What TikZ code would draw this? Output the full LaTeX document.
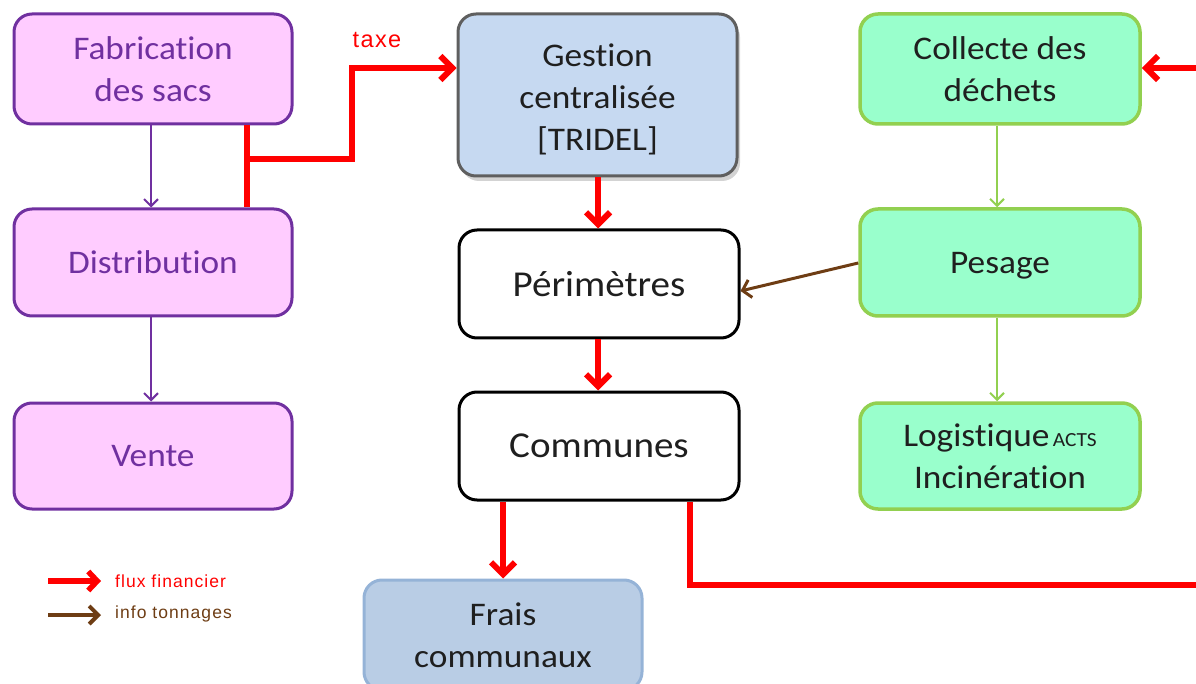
\documentclass[tikz,border=0pt]{standalone}
\usepackage{fontspec}
\setmainfont[FakeStretch=1.07, Ligatures=NoCommon]{Carlito}
\newfontfamily\arialf[LetterSpace=6]{Liberation Sans}
\usetikzlibrary{arrows.meta,shadows,calc}
\definecolor{purp}{HTML}{7030A0}
\definecolor{pinkfill}{HTML}{FFCCFF}
\definecolor{gestfill}{HTML}{C6D9F1}
\definecolor{gestline}{HTML}{5F5F5F}
\definecolor{fraisfill}{HTML}{B9CDE5}
\definecolor{fraisline}{HTML}{95B3D7}
\definecolor{greenfill}{HTML}{99FFCC}
\definecolor{greenline}{HTML}{92D050}
\definecolor{redc}{HTML}{FF0000}
\definecolor{brownc}{HTML}{6E3D14}
\begin{document}
\begin{tikzpicture}[x=1pt,y=-1pt,
  box/.style={rounded corners=18pt, line width=3pt, minimum width=278pt, align=center,
    font=\fontsize{33}{42}\selectfont, inner sep=0pt},
  pinkbox/.style={box, draw=purp, fill=pinkfill, text=purp},
  greenbox/.style={box, draw=greenline, fill=greenfill, text=black!88, line width=3.5pt},
  whitebox/.style={box, draw=black, fill=white, text=black!88, font=\fontsize{36.5}{44}\selectfont},
  gestbox/.style={box, draw=gestline, fill=gestfill, text=black!88,
    drop shadow={shadow xshift=3pt, shadow yshift=-5pt, opacity=0.35}},
  fraisbox/.style={box, draw=fraisline, fill=fraisfill, text=black!88},
  redarrow/.style={draw=redc, line width=6pt, -{Straight Barb[length=12pt,width=24pt]}},
  redline/.style={draw=redc, line width=6pt},
  purparrow/.style={draw=purp, line width=2pt, -{Straight Barb[length=7pt,width=14pt]}},
  greenarrow/.style={draw=greenline, line width=2pt, -{Straight Barb[length=7pt,width=14pt]}},
  brownarrow/.style={draw=brownc, line width=3pt, -{Straight Barb[length=8pt,width=18pt]}},
  legtext/.style={anchor=west, inner sep=0pt, font=\arialf\fontsize{17.5}{20}\selectfont}
]
\useasboundingbox (0,0) rectangle (1196,684);

% left column
\node[pinkbox, minimum height=110pt] (fab) at (153,69) {Fabrication\\des sacs};
\node[pinkbox, minimum height=107pt] (dist) at (153,262.5) {Distribution};
\node[pinkbox, minimum height=106pt] (vente) at (153,456) {Vente};

% middle column
\node[gestbox, minimum width=279pt, minimum height=162pt] (gest) at (597.5,95) {\rule{0pt}{31pt}Gestion\\centralisée\\{}[TRIDEL]};
\node[whitebox, minimum width=280pt, minimum height=108pt] (peri) at (599,284) {Périmètres};
\node[whitebox, minimum width=280pt, minimum height=108pt] (comm) at (599,446) {Communes};
\node[fraisbox, minimum height=110pt] (frais) at (503,635) {Frais\\communaux};

% right column
\node[greenbox, minimum width=280pt, minimum height=110pt] (coll) at (1000,69) {Collecte des\\déchets};
\node[greenbox, minimum width=280pt, minimum height=107pt, text depth=0pt] (pes) at (1000,262.5) {Pesage};
\node[greenbox, minimum width=280pt, minimum height=106pt] (logi) at (1000,456) {Logistique{\fontsize{20}{24}\selectfont\,ACTS}\\Incinération};

% purple arrows
\draw[purparrow] (fab.south -| 151,0) -- (dist.north -| 151,0);
\draw[purparrow] (dist.south -| 151,0) -- (vente.north -| 151,0);

% green arrows
\draw[greenarrow] (coll.south -| 997,0) -- (pes.north -| 997,0);
\draw[greenarrow] (pes.south -| 997,0) -- (logi.north -| 997,0);

% taxe flow
\draw[redline] (fab.south -| 247,0) -- (dist.north -| 247,0);
\coordinate (tj) at (247,159);
\coordinate (tin) at (gest.west |- 0,68);
\draw[redarrow] (tj) -- (352,159) -- (352,68) -- (tin);
\node[text=redc, font=\arialf\fontsize{23.5}{26}\selectfont, inner sep=0pt] (taxe) at (377,40) {taxe};

% red vertical flows
\draw[redarrow] (gest.south -| 598,0) -- (peri.north -| 598,0);
\draw[redarrow] (peri.south -| 598,0) -- (comm.north -| 598,0);
\draw[redarrow] (comm.south -| frais.north) -- (frais.north);

% communes -> collecte (around the right edge)
\coordinate (redge) at (1196,585);
\coordinate (redgetop) at (1196,68);
\draw[redline] (comm.south -| 690,0) -- (690,585) -- (redge);
\draw[redarrow] (redgetop) -- (coll.east |- redgetop);

% pesage -> perimetres
\draw[brownarrow] (pes.west |- 0,263) -- (peri.east |- 0,291);

% legend
\coordinate (l1a) at (48,581);
\coordinate (l1b) at (101,581);
\coordinate (l2a) at (48,615);
\coordinate (l2b) at (101,615);
\draw[redarrow, line width=5.5pt, -{Straight Barb[length=9pt,width=19pt]}] (l1a) -- (l1b);
\draw[brownarrow, line width=4pt, -{Straight Barb[length=9pt,width=18pt]}] (l2a) -- (l2b);
\node[legtext, text=redc] (leg1) at (115,581) {flux financier};
\node[legtext, text=brownc] (leg2) at (115,614) {info tonnages};
\end{tikzpicture}
\end{document}
